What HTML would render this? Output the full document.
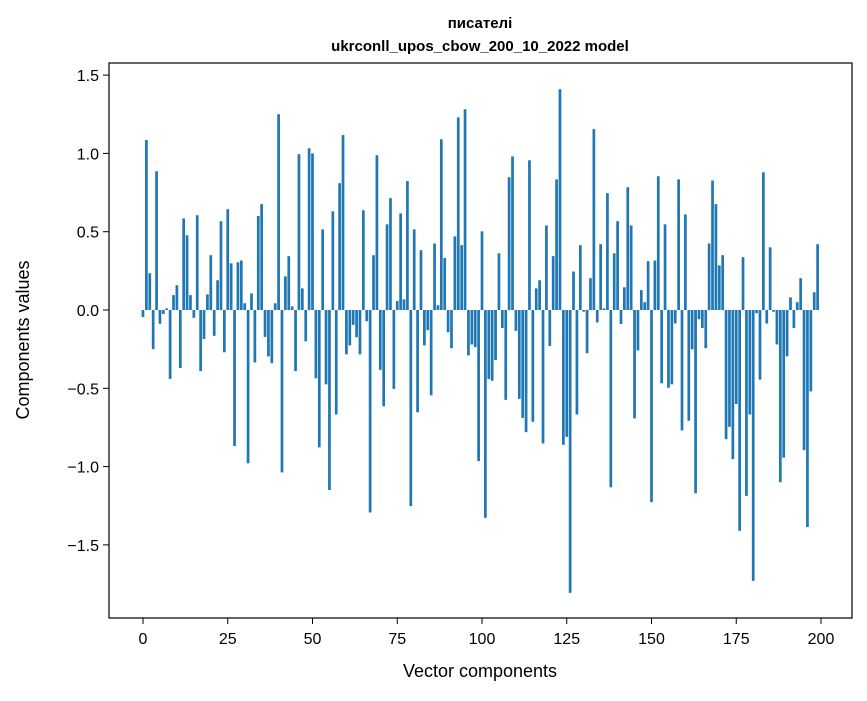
<!DOCTYPE html>
<html><head><meta charset="utf-8"><style>
body{margin:0;background:#fff;}
svg text{font-family:"Liberation Sans","DejaVu Sans",sans-serif;}
</style></head><body>
<svg id="chart" width="867" height="696" xmlns="http://www.w3.org/2000/svg">
<rect width="867" height="696" fill="#fff"/>
<text x="480" y="28" text-anchor="middle" font-size="15" font-weight="bold">писателі</text>
<text x="480" y="51" text-anchor="middle" font-size="15" font-weight="bold">ukrconll_upos_cbow_200_10_2022 model</text>
<g id="bars"></g>
<g id="axes"></g>
<rect x="109" y="63" width="743" height="555" fill="none" stroke="#000" stroke-width="1.2"/>
<text x="480" y="677" text-anchor="middle" font-size="18">Vector components</text>
<text transform="translate(29,340) rotate(-90)" text-anchor="middle" font-size="18">Components values</text>
</svg>
<script>
const values = [-0.045,1.085,0.235,-0.25,0.886,-0.088,-0.025,0.01,-0.44,0.095,0.158,-0.37,0.585,0.477,0.095,-0.05,0.605,-0.39,-0.185,0.1,0.35,-0.165,0.19,0.567,-0.27,
0.644,0.298,-0.868,0.305,0.316,0.043,-0.979,0.106,-0.335,0.6,0.676,-0.172,-0.296,-0.34,0.043,1.25,-1.037,0.215,0.344,0.023,-0.39,0.995,0.138,-0.2,1.033,
1.0,-0.436,-0.877,0.515,-0.475,-1.15,0.63,-0.667,0.81,1.117,-0.283,-0.226,-0.095,-0.174,-0.283,0.637,-0.072,-1.293,0.35,0.988,-0.382,-0.615,0.547,0.714,-0.504,
0.057,0.617,0.068,0.823,-1.252,0.515,-0.653,0.382,-0.226,-0.129,-0.545,0.425,0.03,1.09,0.332,-0.142,-0.244,0.47,1.23,0.414,1.282,-0.29,-0.22,-0.237,-0.965,
0.502,-1.327,-0.441,-0.452,-0.319,0.362,-0.115,-0.574,0.848,0.981,-0.133,-0.567,-0.689,-0.78,0.956,-0.714,0.138,0.19,-0.852,0.54,-0.23,0.344,0.834,1.41,-0.861,
-0.81,-1.806,0.246,-0.667,0.414,-0.011,-0.276,0.203,1.155,-0.079,0.42,0.01,0.746,-1.132,0.362,0.567,-0.09,0.145,0.784,0.54,-0.692,-0.258,0.127,0.05,0.312,
-1.227,0.316,0.854,-0.468,0.547,-0.497,-0.475,-0.086,0.834,-0.769,0.61,-0.707,-0.251,-1.17,-0.059,-0.115,-0.244,0.425,0.827,0.676,0.285,0.35,-0.825,-0.746,-0.952,
-0.6,-1.41,0.337,-1.187,-0.667,-1.73,-0.02,-0.445,0.879,-0.086,0.4,-0.011,-0.22,-1.1,-0.943,-0.296,0.081,-0.115,0.05,0.203,-0.895,-1.386,-0.52,0.113,0.42];
const xTicks = [0,25,50,75,100,125,150,175,200];
const yTicks = [-1.5,-1.0,-0.5,0.0,0.5,1.0,1.5];
const yTickLabels = ["−1.5","−1.0","−0.5","0.0","0.5","1.0","1.5"];
const NS="http://www.w3.org/2000/svg";
const xs = v => 143 + (v) * 3.39;
const ys = v => 310 - v * 156.6;
const bars=document.getElementById('bars');
values.forEach((v,i)=>{
  const r=document.createElementNS(NS,'rect');
  
  
  const x0=xs(i-0.4), x1=xs(i+0.4);
  r.setAttribute('x',x0);r.setAttribute('width',x1-x0);
  r.setAttribute('y',Math.min(ys(v),ys(0)));r.setAttribute('height',Math.abs(ys(v)-ys(0)));
  r.setAttribute('fill','#1f77b4');
  bars.appendChild(r);
});
const axes=document.getElementById('axes');
xTicks.forEach(t=>{
  const l=document.createElementNS(NS,'line');
  
  
  l.setAttribute('x1',xs(t));l.setAttribute('x2',xs(t));l.setAttribute('y1',618);l.setAttribute('y2',624);l.setAttribute('stroke','#000');
  axes.appendChild(l);
  const tx=document.createElementNS(NS,'text');
  
  
  tx.setAttribute('x',xs(t));tx.setAttribute('y',644);tx.setAttribute('text-anchor','middle');tx.setAttribute('font-size','16');
  tx.textContent=t;axes.appendChild(tx);
});
yTicks.forEach((t,k)=>{
  const l=document.createElementNS(NS,'line');
  
  
  l.setAttribute('x1',103);l.setAttribute('x2',109);l.setAttribute('y1',ys(t));l.setAttribute('y2',ys(t));l.setAttribute('stroke','#000');
  axes.appendChild(l);
  const tx=document.createElementNS(NS,'text');
  
  
  tx.setAttribute('x',99);tx.setAttribute('y',ys(t)+6);tx.setAttribute('text-anchor','end');tx.setAttribute('font-size','16');
  tx.textContent=yTickLabels[k];axes.appendChild(tx);
});
</script>
</body></html>
